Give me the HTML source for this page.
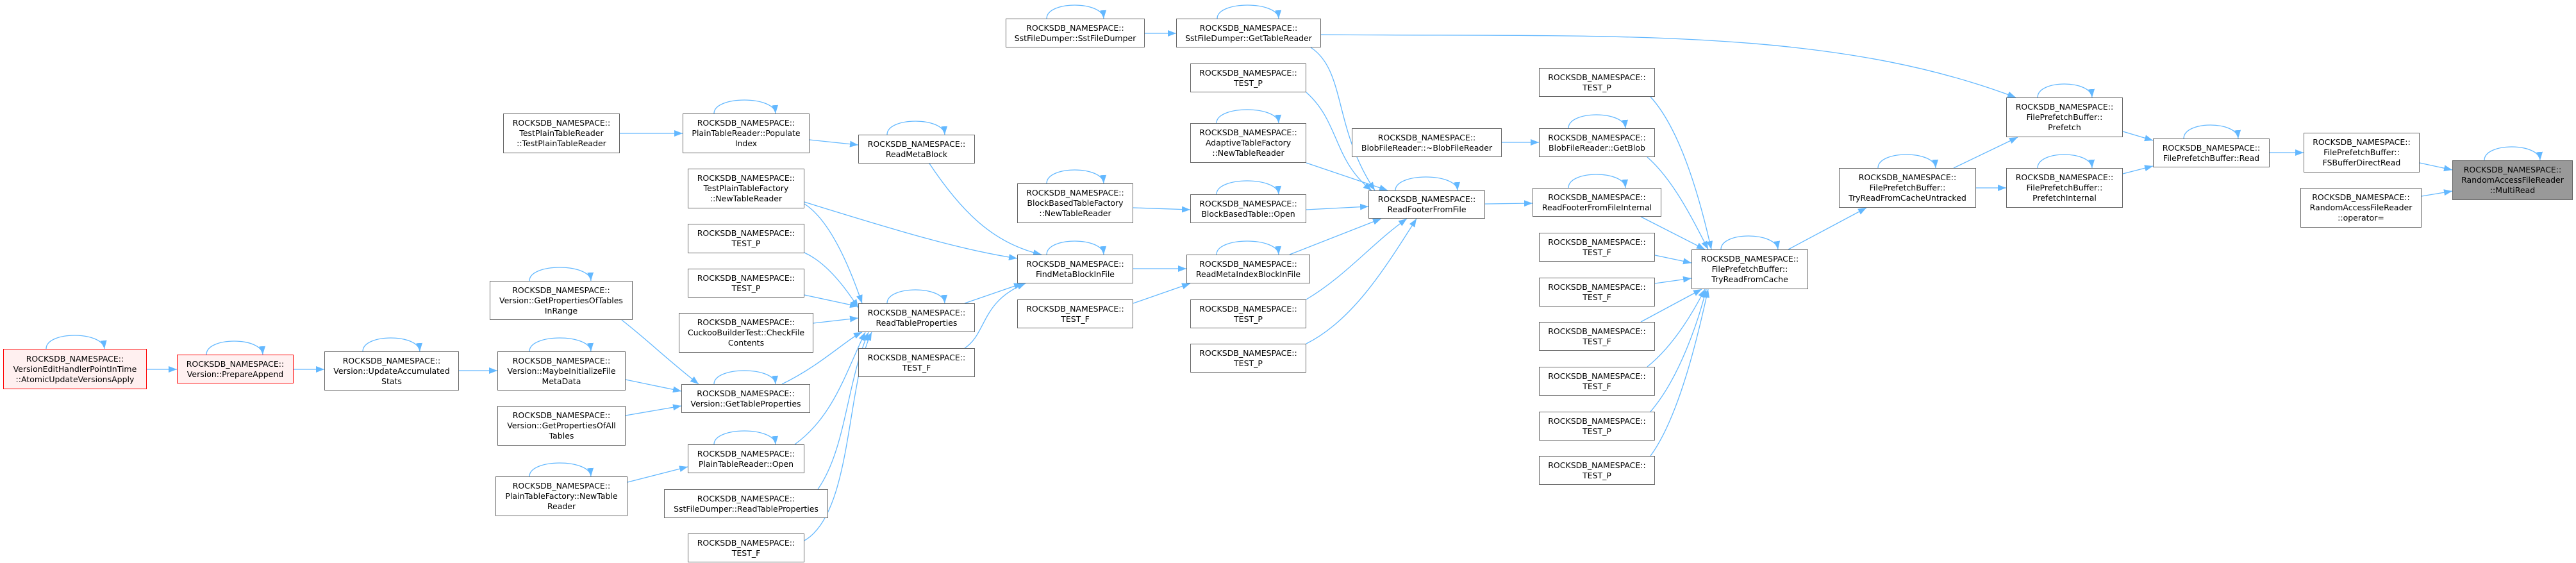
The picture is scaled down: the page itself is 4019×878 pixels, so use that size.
<!DOCTYPE html>
<html><head><meta charset="utf-8"><style>
html,body{margin:0;padding:0;background:#fff;}
body{width:4019px;height:878px;position:relative;overflow:hidden;font-family:"DejaVu Sans","Liberation Sans",sans-serif;}
.n{position:absolute;box-sizing:border-box;border:1px solid #666;background:#fff;display:flex;align-items:center;justify-content:center;text-align:center;font-size:12.5px;line-height:16px;color:#000;white-space:nowrap;}
.r{border:1.5px solid #ff0000;background:#fff0f0;}
.g{background:#999;border-color:#666;}
svg{position:absolute;left:0;top:0;}
</style></head><body>
<svg width="4019" height="878" viewBox="0 0 4019 878">
<defs><marker id="a" markerUnits="userSpaceOnUse" markerWidth="14" markerHeight="12" refX="13" refY="5" orient="auto"><path d="M0,0 L13,5 L0,10 z" fill="#63b8ff"/></marker></defs>
<g fill="none" stroke="#63b8ff" stroke-width="1.3" marker-end="url(#a)">
<path d="M229,576 L276,576"/>
<path d="M458,576 L506,576"/>
<path d="M716,578 L776,578"/>
<path d="M970,499 C1010,530 1040,560 1090,599"/>
<path d="M976,592 L1063,610"/>
<path d="M976,648 L1063,633"/>
<path d="M979,752 L1073,728"/>
<path d="M967,208 L1065,208"/>
<path d="M1263,218 L1339,226"/>
<path d="M1255,315 C1400,360 1500,390 1587,403"/>
<path d="M1255,318 C1290,340 1320,400 1345,473"/>
<path d="M1255,394 C1290,410 1320,450 1339,480"/>
<path d="M1255,460 L1339,478"/>
<path d="M1269,504 L1339,496"/>
<path d="M1220,599 C1280,570 1320,530 1345,518"/>
<path d="M1240,693 C1300,650 1320,580 1350,518"/>
<path d="M1276,763 C1320,700 1320,600 1355,518"/>
<path d="M1255,843 C1330,800 1320,600 1360,518"/>
<path d="M1450,255 C1500,330 1550,380 1625,397"/>
<path d="M1505,473 L1595,442"/>
<path d="M1505,543 C1540,520 1530,470 1600,442"/>
<path d="M1786,52 L1835,52"/>
<path d="M2061,54 C2500,58 2850,40 3145,152"/>
<path d="M2045,74 C2100,110 2080,200 2145,297"/>
<path d="M1768,324 L1857,327"/>
<path d="M1768,419 L1851,419"/>
<path d="M1768,473 L1857,442"/>
<path d="M2038,144 C2090,190 2080,250 2140,297"/>
<path d="M2038,254 L2165,297"/>
<path d="M2038,327 L2135,322"/>
<path d="M2012,397 L2155,341"/>
<path d="M2038,467 C2100,430 2140,380 2195,341"/>
<path d="M2038,536 C2110,500 2160,420 2210,341"/>
<path d="M2343,222 L2401,222"/>
<path d="M2317,318 L2391,317"/>
<path d="M2575,151 C2620,200 2650,300 2670,389"/>
<path d="M2570,245 C2610,280 2640,340 2665,389"/>
<path d="M2560,338 L2660,389"/>
<path d="M2582,398 L2639,410"/>
<path d="M2582,442 L2639,434"/>
<path d="M2560,502 L2655,451"/>
<path d="M2570,572 C2610,540 2640,490 2660,451"/>
<path d="M2575,642 C2620,590 2650,500 2662,451"/>
<path d="M2575,711 C2620,650 2650,520 2665,451"/>
<path d="M2790,389 L2912,324"/>
<path d="M3048,262 L3148,214"/>
<path d="M3083,293 L3130,293"/>
<path d="M3312,205 L3359,219"/>
<path d="M3312,271 L3359,259"/>
<path d="M3541,238 L3594,238"/>
<path d="M3775,254 L3826,265"/>
<path d="M3778,306 L3826,298"/>
<!-- self loops -->
<path d="M72,544 C72,516 160,516 163,544"/>
<path d="M322,553 C322,525 408,525 410,553"/>
<path d="M566,548 C566,520 653,520 655,548"/>
<path d="M826,438 C826,410 920,410 922,438"/>
<path d="M826,548 C826,520 920,520 922,548"/>
<path d="M826,743 C826,715 920,715 922,743"/>
<path d="M1114,177 C1114,149 1208,149 1210,177"/>
<path d="M1114,599 C1114,571 1208,571 1210,599"/>
<path d="M1114,693 C1114,665 1208,665 1210,693"/>
<path d="M1384,210 C1384,182 1472,182 1474,210"/>
<path d="M1384,473 C1384,445 1472,445 1474,473"/>
<path d="M1633,29 C1633,1 1720,1 1722,29"/>
<path d="M1899,29 C1899,1 1993,1 1995,29"/>
<path d="M1633,286 C1633,258 1720,258 1722,286"/>
<path d="M1633,397 C1633,369 1720,369 1722,397"/>
<path d="M1898,192 C1898,164 1993,164 1995,192"/>
<path d="M1898,303 C1898,275 1993,275 1995,303"/>
<path d="M1898,397 C1898,369 1993,369 1995,397"/>
<path d="M2177,297 C2177,269 2272,269 2274,297"/>
<path d="M2447,200 C2447,172 2534,172 2536,200"/>
<path d="M2447,293 C2447,265 2534,265 2536,293"/>
<path d="M2685,389 C2685,361 2770,361 2774,389"/>
<path d="M2930,262 C2930,234 3018,234 3020,262"/>
<path d="M3179,152 C3179,124 3262,124 3264,152"/>
<path d="M3179,262 C3179,234 3262,234 3264,262"/>
<path d="M3407,216 C3407,188 3490,188 3492,216"/>
<path d="M3876,250 C3876,222 3961,222 3963,250"/>
</g>
</svg>

<div class="n r" style="left:5px;top:544px;width:224px;height:63px">ROCKSDB_NAMESPACE::<br>VersionEditHandlerPointInTime<br>::AtomicUpdateVersionsApply</div>
<div class="n r" style="left:276px;top:553px;width:182px;height:45px">ROCKSDB_NAMESPACE::<br>Version::PrepareAppend</div>
<div class="n" style="left:506px;top:548px;width:210px;height:61px">ROCKSDB_NAMESPACE::<br>Version::UpdateAccumulated<br>Stats</div>
<div class="n" style="left:764px;top:438px;width:223px;height:61px">ROCKSDB_NAMESPACE::<br>Version::GetPropertiesOfTables<br>InRange</div>
<div class="n" style="left:776px;top:548px;width:200px;height:61px">ROCKSDB_NAMESPACE::<br>Version::MaybeInitializeFile<br>MetaData</div>
<div class="n" style="left:776px;top:633px;width:200px;height:62px">ROCKSDB_NAMESPACE::<br>Version::GetPropertiesOfAll<br>Tables</div>
<div class="n" style="left:773px;top:743px;width:206px;height:62px">ROCKSDB_NAMESPACE::<br>PlainTableFactory::NewTable<br>Reader</div>
<div class="n" style="left:785px;top:177px;width:182px;height:62px">ROCKSDB_NAMESPACE::<br>TestPlainTableReader<br>::TestPlainTableReader</div>
<div class="n" style="left:1065px;top:177px;width:198px;height:62px">ROCKSDB_NAMESPACE::<br>PlainTableReader::Populate<br>Index</div>
<div class="n" style="left:1073px;top:263px;width:182px;height:62px">ROCKSDB_NAMESPACE::<br>TestPlainTableFactory<br>::NewTableReader</div>
<div class="n" style="left:1073px;top:349px;width:182px;height:46px">ROCKSDB_NAMESPACE::<br>TEST_P</div>
<div class="n" style="left:1073px;top:419px;width:182px;height:45px">ROCKSDB_NAMESPACE::<br>TEST_P</div>
<div class="n" style="left:1059px;top:488px;width:210px;height:62px">ROCKSDB_NAMESPACE::<br>CuckooBuilderTest::CheckFile<br>Contents</div>
<div class="n" style="left:1063px;top:599px;width:201px;height:45px">ROCKSDB_NAMESPACE::<br>Version::GetTableProperties</div>
<div class="n" style="left:1073px;top:693px;width:182px;height:45px">ROCKSDB_NAMESPACE::<br>PlainTableReader::Open</div>
<div class="n" style="left:1036px;top:763px;width:256px;height:45px">ROCKSDB_NAMESPACE::<br>SstFileDumper::ReadTableProperties</div>
<div class="n" style="left:1073px;top:832px;width:182px;height:45px">ROCKSDB_NAMESPACE::<br>TEST_F</div>
<div class="n" style="left:1339px;top:210px;width:182px;height:45px">ROCKSDB_NAMESPACE::<br>ReadMetaBlock</div>
<div class="n" style="left:1339px;top:473px;width:182px;height:45px">ROCKSDB_NAMESPACE::<br>ReadTableProperties</div>
<div class="n" style="left:1339px;top:543px;width:182px;height:45px">ROCKSDB_NAMESPACE::<br>TEST_F</div>
<div class="n" style="left:1569px;top:29px;width:217px;height:45px">ROCKSDB_NAMESPACE::<br>SstFileDumper::SstFileDumper</div>
<div class="n" style="left:1835px;top:29px;width:226px;height:45px">ROCKSDB_NAMESPACE::<br>SstFileDumper::GetTableReader</div>
<div class="n" style="left:1587px;top:286px;width:181px;height:62px">ROCKSDB_NAMESPACE::<br>BlockBasedTableFactory<br>::NewTableReader</div>
<div class="n" style="left:1587px;top:397px;width:181px;height:45px">ROCKSDB_NAMESPACE::<br>FindMetaBlockInFile</div>
<div class="n" style="left:1587px;top:467px;width:181px;height:45px">ROCKSDB_NAMESPACE::<br>TEST_F</div>
<div class="n" style="left:1857px;top:99px;width:181px;height:45px">ROCKSDB_NAMESPACE::<br>TEST_P</div>
<div class="n" style="left:1857px;top:192px;width:181px;height:62px">ROCKSDB_NAMESPACE::<br>AdaptiveTableFactory<br>::NewTableReader</div>
<div class="n" style="left:1857px;top:303px;width:181px;height:45px">ROCKSDB_NAMESPACE::<br>BlockBasedTable::Open</div>
<div class="n" style="left:1851px;top:397px;width:193px;height:45px">ROCKSDB_NAMESPACE::<br>ReadMetaIndexBlockInFile</div>
<div class="n" style="left:1857px;top:467px;width:181px;height:45px">ROCKSDB_NAMESPACE::<br>TEST_P</div>
<div class="n" style="left:1857px;top:536px;width:181px;height:45px">ROCKSDB_NAMESPACE::<br>TEST_P</div>
<div class="n" style="left:2109px;top:200px;width:234px;height:45px">ROCKSDB_NAMESPACE::<br>BlobFileReader::~BlobFileReader</div>
<div class="n" style="left:2135px;top:297px;width:182px;height:44px">ROCKSDB_NAMESPACE::<br>ReadFooterFromFile</div>
<div class="n" style="left:2401px;top:106px;width:181px;height:45px">ROCKSDB_NAMESPACE::<br>TEST_P</div>
<div class="n" style="left:2401px;top:200px;width:181px;height:45px">ROCKSDB_NAMESPACE::<br>BlobFileReader::GetBlob</div>
<div class="n" style="left:2391px;top:293px;width:201px;height:45px">ROCKSDB_NAMESPACE::<br>ReadFooterFromFileInternal</div>
<div class="n" style="left:2401px;top:363px;width:181px;height:45px">ROCKSDB_NAMESPACE::<br>TEST_F</div>
<div class="n" style="left:2401px;top:433px;width:181px;height:45px">ROCKSDB_NAMESPACE::<br>TEST_F</div>
<div class="n" style="left:2401px;top:502px;width:181px;height:45px">ROCKSDB_NAMESPACE::<br>TEST_F</div>
<div class="n" style="left:2401px;top:572px;width:181px;height:45px">ROCKSDB_NAMESPACE::<br>TEST_F</div>
<div class="n" style="left:2401px;top:642px;width:181px;height:45px">ROCKSDB_NAMESPACE::<br>TEST_P</div>
<div class="n" style="left:2401px;top:711px;width:181px;height:45px">ROCKSDB_NAMESPACE::<br>TEST_P</div>
<div class="n" style="left:2639px;top:389px;width:182px;height:62px">ROCKSDB_NAMESPACE::<br>FilePrefetchBuffer::<br>TryReadFromCache</div>
<div class="n" style="left:2869px;top:262px;width:214px;height:62px">ROCKSDB_NAMESPACE::<br>FilePrefetchBuffer::<br>TryReadFromCacheUntracked</div>
<div class="n" style="left:3130px;top:152px;width:182px;height:62px">ROCKSDB_NAMESPACE::<br>FilePrefetchBuffer::<br>Prefetch</div>
<div class="n" style="left:3130px;top:262px;width:182px;height:62px">ROCKSDB_NAMESPACE::<br>FilePrefetchBuffer::<br>PrefetchInternal</div>
<div class="n" style="left:3359px;top:216px;width:182px;height:45px">ROCKSDB_NAMESPACE::<br>FilePrefetchBuffer::Read</div>
<div class="n" style="left:3594px;top:207px;width:181px;height:62px">ROCKSDB_NAMESPACE::<br>FilePrefetchBuffer::<br>FSBufferDirectRead</div>
<div class="n" style="left:3589px;top:293px;width:189px;height:62px">ROCKSDB_NAMESPACE::<br>RandomAccessFileReader<br>::operator=</div>
<div class="n g" style="left:3826px;top:250px;width:188px;height:62px">ROCKSDB_NAMESPACE::<br>RandomAccessFileReader<br>::MultiRead</div>
</body></html>
